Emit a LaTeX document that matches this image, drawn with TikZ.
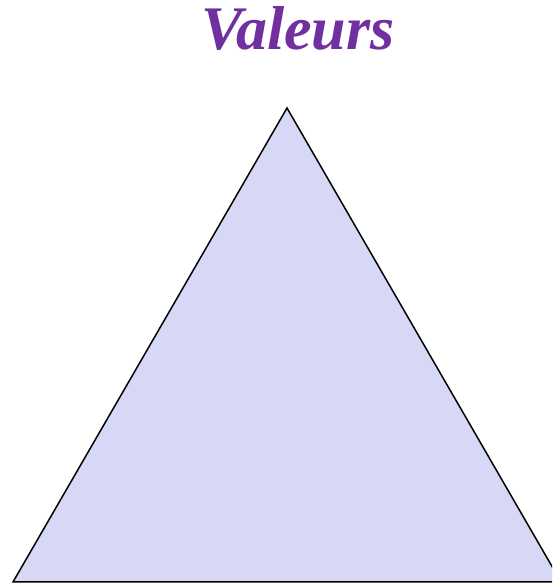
\documentclass[tikz,border=0pt]{standalone}
\usepackage{fontspec}
\setmainfont{Liberation Serif}
\usetikzlibrary{positioning}
\definecolor{titlepurple}{RGB}{112,48,160}
\definecolor{trifill}{RGB}{214,216,245}

\begin{document}
\begin{tikzpicture}[
        x=1pt, y=1pt,
        title/.style={font=\fontsize{62}{62}\selectfont\bfseries\itshape, text=titlepurple, anchor=base, inner sep=0pt},
        tri/.style={draw=black, fill=trifill, line width=1.5pt, line join=miter}
    ]
        \useasboundingbox (0,0) rectangle (552,583);
        \clip (0,0) rectangle (552,583);

        % Sommets du triangle
        \coordinate (apex) at (287,475);
        \coordinate (left) at (13,1);
        \coordinate (right) at (561,1);

        % Triangle
        \draw [tri] (left) -- (apex) -- (right) -- cycle;

        % Titre
        \node (valeurs) [title] at (298,533) {Valeurs};
    \end{tikzpicture}
\end{document}
